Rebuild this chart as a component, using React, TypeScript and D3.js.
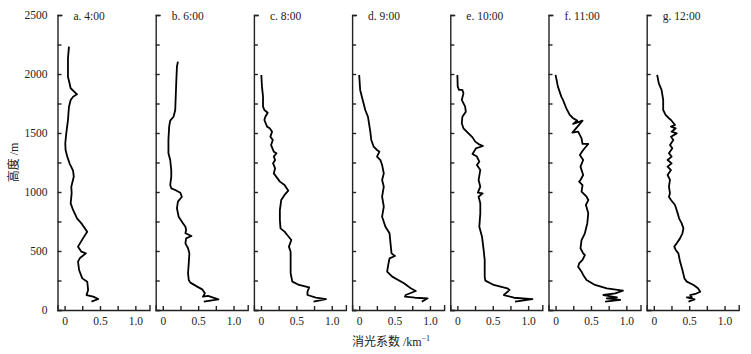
import React, { useEffect, useRef } from "react";
import * as d3 from "d3";

// [extinction (km^-1), height (m)]
const panelTitles = ["a. 4:00", "b. 6:00", "c. 8:00", "d. 9:00", "e. 10:00", "f. 11:00", "g. 12:00"];
const xTicks = [0, 0.25, 0.5, 0.75, 1.0];
const xTickLabels = ["0", "", "0.5", "", "1.0"];
const yTicks = [0, 250, 500, 750, 1000, 1250, 1500, 1750, 2000, 2250, 2500];
const yTickLabels = ["0", "", "500", "", "1000", "", "1500", "", "2000", "", "2500"];

const profileA: [number, number][] = [
  [0.062, 2232], [0.048, 2133], [0.048, 1977], [0.07, 1921], [0.086, 1879], [0.176, 1828], [0.12, 1808],
  [0.086, 1780], [0.062, 1723], [0.048, 1610], [0.024, 1497], [0.01, 1413], [0.014, 1356], [0.038, 1300],
  [0.07, 1243], [0.12, 1181], [0.13, 1130], [0.095, 1045], [0.1, 989], [0.086, 904], [0.12, 848],
  [0.176, 777], [0.238, 734], [0.32, 664], [0.26, 607], [0.19, 537], [0.238, 494], [0.3, 480],
  [0.214, 438], [0.19, 410], [0.205, 339], [0.25, 268], [0.32, 240], [0.333, 169], [0.31, 127],
  [0.405, 113], [0.476, 93], [0.38, 71],
];
const profileB: [number, number][] = [
  [0.214, 2105], [0.2, 2062], [0.19, 1921], [0.176, 1695], [0.152, 1638], [0.105, 1605], [0.09, 1554],
  [0.08, 1441], [0.08, 1328], [0.105, 1271], [0.12, 1186], [0.12, 1130], [0.105, 1059], [0.12, 1031],
  [0.176, 1017], [0.248, 994], [0.27, 960], [0.214, 918], [0.2, 862], [0.224, 791], [0.28, 740],
  [0.32, 706], [0.33, 678], [0.32, 650], [0.405, 627], [0.33, 607], [0.32, 565], [0.357, 523],
  [0.376, 480], [0.367, 395], [0.357, 311], [0.367, 254], [0.39, 232], [0.486, 198], [0.557, 175],
  [0.595, 141], [0.567, 113], [0.64, 119], [0.786, 90], [0.58, 71],
];
const profileC: [number, number][] = [
  [0.005, 1992], [0.014, 1893], [0.029, 1808], [0.029, 1723], [0.048, 1695], [0.095, 1672], [0.062, 1638],
  [0.048, 1610], [0.086, 1554], [0.124, 1540], [0.157, 1511], [0.133, 1469], [0.167, 1441], [0.143, 1398],
  [0.181, 1342], [0.219, 1328], [0.181, 1300], [0.2, 1271], [0.171, 1243], [0.2, 1201], [0.181, 1158],
  [0.267, 1088], [0.333, 1059], [0.386, 1011], [0.333, 975], [0.286, 932], [0.267, 847], [0.267, 763],
  [0.276, 692], [0.333, 664], [0.371, 636], [0.429, 593], [0.395, 537], [0.419, 494], [0.419, 424],
  [0.419, 311], [0.443, 240], [0.538, 212], [0.681, 192], [0.657, 155], [0.657, 127], [0.776, 104],
  [0.919, 93], [0.743, 71],
];
const profileD: [number, number][] = [
  [0.0, 1992], [0.014, 1865], [0.038, 1808], [0.086, 1695], [0.124, 1638], [0.157, 1511], [0.171, 1441],
  [0.205, 1384], [0.252, 1356], [0.286, 1342], [0.252, 1300], [0.3, 1271], [0.324, 1229], [0.348, 1158],
  [0.324, 1102], [0.348, 1045], [0.324, 960], [0.348, 876], [0.324, 791], [0.371, 706], [0.429, 650],
  [0.443, 565], [0.457, 480], [0.505, 458], [0.429, 438], [0.41, 381], [0.395, 325], [0.467, 283],
  [0.633, 226], [0.729, 184], [0.8, 161], [0.657, 127], [0.648, 113], [0.79, 104], [0.967, 99], [0.886, 71],
];
const profileE: [number, number][] = [
  [0.0, 1992], [0.005, 1893], [0.024, 1865], [0.071, 1865], [0.086, 1836], [0.062, 1780], [0.11, 1723],
  [0.119, 1681], [0.071, 1638], [0.062, 1582], [0.086, 1540], [0.157, 1497], [0.214, 1463], [0.252, 1427],
  [0.3, 1406], [0.362, 1390], [0.262, 1370], [0.214, 1322], [0.276, 1300], [0.31, 1257], [0.276, 1229],
  [0.324, 1186], [0.3, 1102], [0.324, 1045], [0.29, 994], [0.357, 989], [0.3, 960], [0.324, 904],
  [0.324, 819], [0.31, 706], [0.348, 621], [0.371, 509], [0.386, 424], [0.386, 282], [0.395, 249],
  [0.514, 212], [0.705, 184], [0.738, 170], [0.657, 127], [0.8, 104], [1.062, 93], [0.814, 71],
];
const profileF: [number, number][] = [
  [0.0, 1992], [0.033, 1893], [0.081, 1808], [0.105, 1780], [0.152, 1709], [0.2, 1653], [0.248, 1625],
  [0.305, 1605], [0.248, 1577], [0.381, 1605], [0.319, 1560], [0.271, 1526], [0.238, 1503], [0.319, 1511],
  [0.367, 1455], [0.381, 1407], [0.462, 1407], [0.39, 1356], [0.343, 1314], [0.39, 1271], [0.352, 1215],
  [0.39, 1144], [0.352, 1102], [0.333, 1088], [0.381, 1059], [0.367, 1003], [0.438, 960], [0.462, 932],
  [0.429, 890], [0.462, 819], [0.448, 734], [0.414, 650], [0.367, 593], [0.352, 523], [0.39, 480],
  [0.414, 466], [0.381, 424], [0.333, 395], [0.319, 367], [0.367, 325], [0.39, 297], [0.438, 254],
  [0.557, 212], [0.724, 184], [0.952, 164], [0.843, 141], [0.676, 127], [0.867, 107], [0.724, 99],
  [0.914, 85], [0.7, 71],
];
const profileG: [number, number][] = [
  [0.048, 1992], [0.071, 1921], [0.11, 1865], [0.133, 1780], [0.133, 1695], [0.167, 1653], [0.214, 1625],
  [0.243, 1610], [0.3, 1568], [0.243, 1554], [0.31, 1540], [0.252, 1511], [0.324, 1497], [0.243, 1469],
  [0.276, 1441], [0.229, 1398], [0.262, 1370], [0.214, 1328], [0.252, 1300], [0.195, 1271], [0.252, 1243],
  [0.195, 1215], [0.243, 1186], [0.195, 1144], [0.229, 1102], [0.214, 1045], [0.229, 989], [0.214, 960],
  [0.243, 932], [0.3, 890], [0.338, 819], [0.357, 777], [0.395, 734], [0.419, 692], [0.405, 650],
  [0.371, 607], [0.324, 565], [0.29, 537], [0.31, 509], [0.348, 480], [0.371, 410], [0.405, 339],
  [0.433, 268], [0.467, 240], [0.562, 212], [0.624, 184], [0.657, 155], [0.586, 136], [0.514, 127],
  [0.538, 107], [0.467, 107], [0.576, 90], [0.49, 71],
];
const profiles = [profileA, profileB, profileC, profileD, profileE, profileF, profileG];

const W = 751;
const H = 354;
const FONT = '"Liberation Serif", "Noto Sans CJK SC", serif';

export default function App() {
  const ref = useRef<SVGSVGElement>(null);

  useEffect(() => {
    const svg = d3.select(ref.current);
    svg.selectAll("*").remove();

    const firstLeft = 57.5;
    const pitch = 98.2;
    const panelW = 92;
    const top = 15;
    const bottom = 310;

    const y = d3.scaleLinear().domain([0, 2500]).range([bottom, top]);
    const panelLeft = d3.scaleLinear().domain([0, 1]).range([firstLeft, firstLeft + pitch]);

    const line = (x: d3.ScaleLinear<number, number>) =>
      d3
        .line<[number, number]>()
        .x((d) => x(d[0]))
        .y((d) => y(d[1]))
        .curve(d3.curveLinear);

    profiles.forEach((data, i) => {
      const left = panelLeft(i);
      const x = d3.scaleLinear().domain([-0.1, 1.2]).range([left, left + panelW]);
      const g = svg.append("g");

      const xAxis = d3
        .axisBottom(x)
        .tickValues(xTicks)
        .tickSize(-4)
        .tickSizeOuter(-5)
        .tickPadding(7)
        .tickFormat((d, k) => xTickLabels[k]);
      const gx = g.append("g").attr("transform", `translate(0,${bottom})`).call(xAxis as any);

      const yAxis = d3
        .axisLeft(y)
        .tickValues(yTicks)
        .tickSize(-4)
        .tickSizeOuter(-5)
        .tickPadding(10)
        .tickFormat((d, k) => (i === 0 ? yTickLabels[k] : ""));
      const gy = g.append("g").attr("transform", `translate(${left},0)`).call(yAxis as any);

      [gx, gy].forEach((ax) => {
        ax.attr("font-family", null).attr("font-size", null);
        ax.selectAll("path, line").attr("stroke", "#222").attr("stroke-width", 1.4);
        ax.selectAll("text").style("font-family", FONT).style("font-size", "11.5px").attr("fill", "#222");
      });

      g.append("path")
        .datum(data)
        .attr("d", line(x))
        .attr("fill", "none")
        .attr("stroke", "#000")
        .attr("stroke-width", 1.8)
        .attr("stroke-linejoin", "round");

      g.append("text")
        .attr("x", left + 16)
        .attr("y", 20)
        .style("font-family", FONT)
        .style("font-size", "11.5px")
        .attr("fill", "#222")
        .text(panelTitles[i]);
    });

    svg
      .append("text")
      .attr("transform", `translate(18,${(top + bottom) / 2}) rotate(-90)`)
      .attr("text-anchor", "middle")
      .style("font-family", FONT)
      .style("font-size", "12px")
      .attr("fill", "#222")
      .text("高度 /m");

    const xl = svg
      .append("text")
      .attr("x", 391)
      .attr("y", 346)
      .attr("text-anchor", "middle")
      .style("font-family", FONT)
      .style("font-size", "12px")
      .attr("fill", "#222");
    xl.append("tspan").text("消光系数 /km");
    xl.append("tspan").attr("dy", -5).style("font-size", "8px").text("−1");
  }, []);

  return (
    <svg
      ref={ref}
      width={W}
      height={H}
      style={{ position: "absolute", left: 0, top: 0, background: "#fff", fontFamily: FONT }}
    />
  );
}
